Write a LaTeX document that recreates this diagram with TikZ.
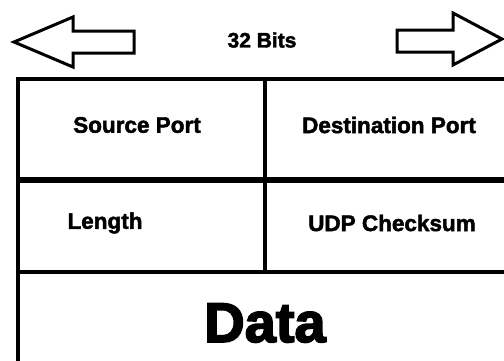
\documentclass[tikz,border=0pt]{standalone}
\usepackage{fontspec}
\setmainfont{Liberation Sans}
\newfontfamily\heavyfont{Liberation Sans Bold}[FakeBold=2]
\newfontfamily\blackfont{Liberation Sans Bold}[FakeBold=3]
\begin{document}
\begin{tikzpicture}[x=1pt,y=-1pt,
  outline/.style={draw=black,line width=3pt,line join=miter,fill=white},
  rule/.style={draw=black,line width=3.5pt},
  heavyrule/.style={draw=black,line width=6pt},
  label/.style={font=\heavyfont\fontsize{22.5}{26}\selectfont,inner sep=0pt,anchor=center},
  datalabel/.style={font=\blackfont\fontsize{56}{60}\selectfont,inner sep=0pt,anchor=center}]
  \useasboundingbox[fill=white] (0,0) rectangle (504,360);

  % width arrows
  \draw[outline] (14,42) -- (73,17) -- (73,31) -- (134,31) -- (134,53)
                 -- (73,53) -- (73,67) -- cycle;
  \draw[outline] (502,39) -- (453,13) -- (453,30) -- (397,30) -- (397,52)
                 -- (453,52) -- (453,65) -- cycle;
  \node[label,font=\heavyfont\fontsize{21}{24}\selectfont] (bits) at (262,40) {32 Bits};

  % header grid
  \coordinate (tl) at (18,79);
  \coordinate (tr) at (510,79);
  \coordinate (bl) at (18,365);
  \coordinate (mt) at (265,79);
  \coordinate (mb) at (265,272);
  \coordinate (r1l) at (18,179.5);
  \coordinate (r1r) at (510,179.5);
  \coordinate (r2l) at (18,272);
  \coordinate (r2r) at (510,272);
  \draw[rule] (tr) -- (tl) -- (bl);
  \draw[rule] (mt) -- (mb);
  \draw[heavyrule] (r1l) -- (r1r);
  \draw[rule] (r2l) -- (r2r);

  % field names
  \node[label] (src) at (137,125) {Source Port};
  \node[label] (dst) at (389,125) {Destination Port};
  \node[label] (len) at (105,223) {Length};
  \node[label] (sum) at (392,223) {UDP Checksum};
  \node[datalabel] (data) at (265,323) {Data};
\end{tikzpicture}
\end{document}
